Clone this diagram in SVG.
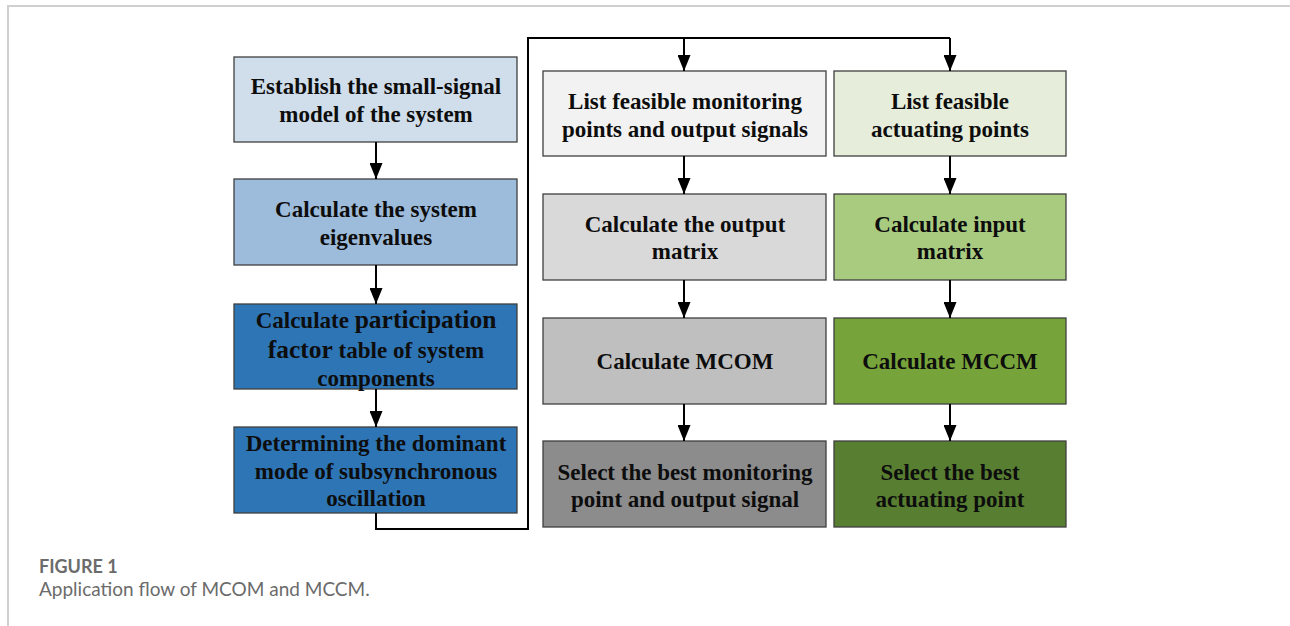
<svg xmlns="http://www.w3.org/2000/svg" width="1290" height="626" viewBox="0 0 1290 626">
  <defs>
    <marker id="arrow" markerWidth="16" markerHeight="13" refX="16" refY="6.5" orient="auto" markerUnits="userSpaceOnUse" viewBox="0 0 16 13">
      <path d="M0,0 L16,6.5 L0,13 Z" fill="#000"/>
    </marker>
  </defs>
  <style>
    .box { stroke: #3f3f3f; stroke-width: 1.3; }
    .lbl { font-family: "Liberation Serif", "Times New Roman", serif; font-weight: bold; font-size: 23px; fill: #0d0d0d; text-anchor: middle; }
    .big { font-size: 25.5px; }
    .wire { fill: none; stroke: #000; stroke-width: 2; }
    .frame { fill: none; stroke: #d0d0d0; stroke-width: 2; }
    .cap-h { font-family: Lato, "Open Sans", sans-serif; font-weight: bold; font-size: 18px; fill: #6b6b6b; }
    .cap { font-family: Lato, "Open Sans", sans-serif; font-size: 19px; fill: #6b6b6b; }
  </style>

  <rect width="1290" height="626" fill="#fff"/>
  <path class="frame" d="M8,626 V6 H1290"/>

  <!-- left column: system analysis -->
  <g id="n-model">
    <rect class="box" x="234" y="57" width="283" height="85" fill="#d0deeb"/>
    <text class="lbl" x="376" y="94">Establish the small-signal</text>
    <text class="lbl" x="376" y="122">model of the system</text>
  </g>
  <g id="n-eigen">
    <rect class="box" x="234" y="179" width="283" height="86" fill="#9dbbda"/>
    <text class="lbl" x="376" y="217">Calculate the system</text>
    <text class="lbl" x="376" y="245">eigenvalues</text>
  </g>
  <g id="n-participation">
    <rect class="box" x="234" y="304" width="283" height="85" fill="#2e75b6"/>
    <text class="lbl" x="376" y="328">Calculate <tspan class="big">participation</tspan></text>
    <text class="lbl" x="376" y="358"><tspan class="big">factor</tspan> table of system</text>
    <text class="lbl" x="376" y="386">components</text>
  </g>
  <g id="n-dominant">
    <rect class="box" x="234" y="427" width="283" height="86" fill="#2e75b6"/>
    <text class="lbl" x="376" y="451">Determining the dominant</text>
    <text class="lbl" x="376" y="479">mode of subsynchronous</text>
    <text class="lbl" x="376" y="506">oscillation</text>
  </g>

  <!-- middle column: monitoring / output side -->
  <g id="n-monitor-list">
    <rect class="box" x="543" y="71" width="283" height="85" fill="#f2f2f2"/>
    <text class="lbl" x="685" y="109">List feasible monitoring</text>
    <text class="lbl" x="685" y="137">points and output signals</text>
  </g>
  <g id="n-output-matrix">
    <rect class="box" x="543" y="194" width="283" height="86" fill="#d9d9d9"/>
    <text class="lbl" x="685" y="232">Calculate the output</text>
    <text class="lbl" x="685" y="259">matrix</text>
  </g>
  <g id="n-mcom">
    <rect class="box" x="543" y="318" width="283" height="86" fill="#bfbfbf"/>
    <text class="lbl" x="685" y="369">Calculate MCOM</text>
  </g>
  <g id="n-best-monitor">
    <rect class="box" x="543" y="441" width="283" height="86" fill="#8c8c8c"/>
    <text class="lbl" x="685" y="480">Select the best monitoring</text>
    <text class="lbl" x="685" y="507">point and output signal</text>
  </g>

  <!-- right column: actuating / input side -->
  <g id="n-actuate-list">
    <rect class="box" x="834" y="71" width="232" height="85" fill="#e6eedb"/>
    <text class="lbl" x="950" y="109">List feasible</text>
    <text class="lbl" x="950" y="137">actuating points</text>
  </g>
  <g id="n-input-matrix">
    <rect class="box" x="834" y="194" width="232" height="86" fill="#a9cb80"/>
    <text class="lbl" x="950" y="232">Calculate input</text>
    <text class="lbl" x="950" y="259">matrix</text>
  </g>
  <g id="n-mccm">
    <rect class="box" x="834" y="318" width="232" height="86" fill="#77a33b"/>
    <text class="lbl" x="950" y="369">Calculate MCCM</text>
  </g>
  <g id="n-best-actuate">
    <rect class="box" x="834" y="441" width="232" height="86" fill="#587f31"/>
    <text class="lbl" x="950" y="480">Select the best</text>
    <text class="lbl" x="950" y="507">actuating point</text>
  </g>

  <!-- connectors -->
  <g id="connectors">
    <line class="wire" x1="376" y1="142" x2="376" y2="179" marker-end="url(#arrow)"/>
    <line class="wire" x1="376" y1="265" x2="376" y2="304" marker-end="url(#arrow)"/>
    <line class="wire" x1="376" y1="389" x2="376" y2="427" marker-end="url(#arrow)"/>
    <path class="wire" d="M376,513 V529 H528 V38 H950"/>
    <line class="wire" x1="684" y1="38" x2="684" y2="71" marker-end="url(#arrow)"/>
    <line class="wire" x1="950" y1="38" x2="950" y2="71" marker-end="url(#arrow)"/>
    <line class="wire" x1="684" y1="156" x2="684" y2="194" marker-end="url(#arrow)"/>
    <line class="wire" x1="684" y1="280" x2="684" y2="318" marker-end="url(#arrow)"/>
    <line class="wire" x1="684" y1="404" x2="684" y2="441" marker-end="url(#arrow)"/>
    <line class="wire" x1="950" y1="156" x2="950" y2="194" marker-end="url(#arrow)"/>
    <line class="wire" x1="950" y1="280" x2="950" y2="318" marker-end="url(#arrow)"/>
    <line class="wire" x1="950" y1="404" x2="950" y2="441" marker-end="url(#arrow)"/>
  </g>

  <!-- caption -->
  <text class="cap-h" x="39" y="573">FIGURE 1</text>
  <text class="cap" x="39" y="596">Application flow of MCOM and MCCM.</text>
</svg>
